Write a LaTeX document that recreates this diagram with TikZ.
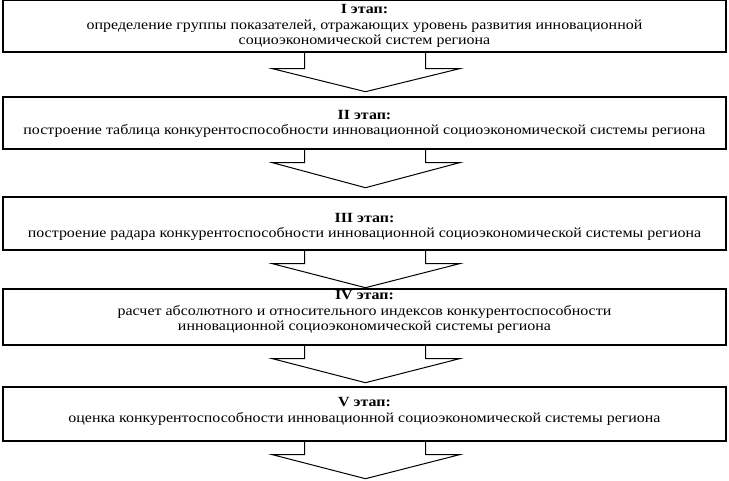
\documentclass[tikz,border=0pt]{standalone}
\usepackage{fontspec}
\setmainfont{Liberation Serif}[FakeStretch=1.14]
\usetikzlibrary{calc}
\begin{document}
\begin{tikzpicture}[x=1pt,y=-1pt,
  stagebox/.style={draw,line width=1.4pt,minimum width=723pt,inner sep=0pt},
  stagetext/.style={inner sep=0pt,align=center,font=\fontsize{14}{15.7}\selectfont},
  blockarrow/.style={draw,line width=1pt,line join=miter}]
\useasboundingbox (0,0) rectangle (729,480);
\node[stagebox,minimum height=51.5pt] (b1) at (364.5,26.25) {};
\node[stagebox,minimum height=52pt] (b2) at (364.5,123) {};
\node[stagebox,minimum height=53pt] (b3) at (364.5,223.5) {};
\node[stagebox,minimum height=56pt] (b4) at (364.5,317) {};
\node[stagebox,minimum height=54pt] (b5) at (364.5,414) {};
\node[stagetext] (t1) at (364.5,26) {\textbf{I этап:}\\определение группы показателей, отражающих уровень развития инновационной\\социоэкономической систем региона};
\node[stagetext] (t2) at (364.5,124) {\textbf{II этап:}\\построение таблица конкурентоспособности инновационной социоэкономической системы региона};
\node[stagetext] (t3) at (364.5,227) {\textbf{III этап:}\\построение радара конкурентоспособности инновационной социоэкономической системы региона};
\node[stagetext] (t4) at (364.5,312) {\textbf{IV этап:}\\расчет абсолютного и относительного индексов конкурентоспособности\\инновационной социоэкономической системы региона};
\node[stagetext] (t5) at (364.5,411.5) {\textbf{V этап:}\\оценка конкурентоспособности инновационной социоэкономической системы региона};
\foreach \b/\w/\t in {b1/16/39,b2/13/38,b3/13/37,b4/13/37,b5/13/37}{
  \draw[blockarrow] ($(\b.south)+(-60,0)$) -- ($(\b.south)+(-60,\w)$) -- ($(\b.south)+(-92,\w)$)
    -- ($(\b.south)+(1,\t)$) -- ($(\b.south)+(95,\w)$) -- ($(\b.south)+(61,\w)$) -- ($(\b.south)+(61,0)$);
}
\end{tikzpicture}
\end{document}
